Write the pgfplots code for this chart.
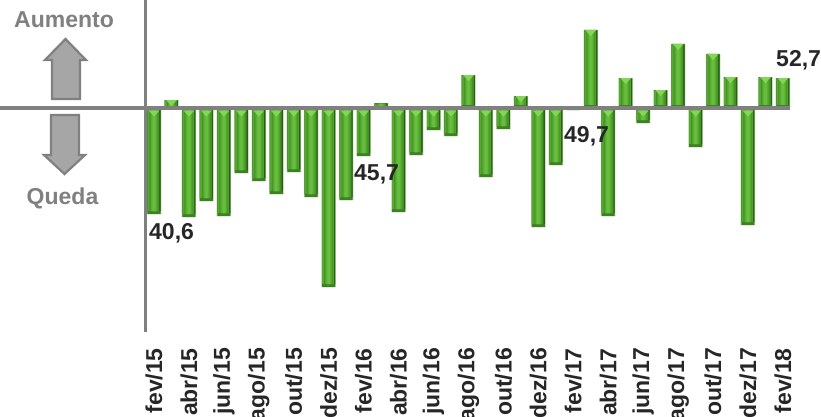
\documentclass[border=0pt]{standalone}
\usepackage{fontspec}
\setmainfont{Liberation Sans}
\usepackage{pgfplots}
\usepackage{pgfplotstable}
\pgfplotsset{compat=1.18}
\definecolor{axg}{HTML}{808080}
\definecolor{arrowfill}{HTML}{A6A6A6}
\definecolor{txt}{HTML}{262626}
\definecolor{edgeg}{HTML}{A8D68E}
\definecolor{foot}{HTML}{3F8027}
\definecolor{tipg}{HTML}{84D656}
\definecolor{rightb}{HTML}{2E5C1C}
\definecolor{leftb}{HTML}{56A832}
\definecolor{g1}{HTML}{468F28}
\definecolor{g2}{HTML}{4FA02D}
\definecolor{g3}{HTML}{58AD33}
\definecolor{g4}{HTML}{60B738}
\definecolor{g5}{HTML}{68BE3D}
\pgfplotstableread{
x v inner foot tip
0 -106 -103 nan -4.5
1 8 7.5 2 6
2 -109 -106 nan -4.5
3 -93 -90 nan -4.5
4 -108 -105 nan -4.5
5 -65 -62 nan -4.5
6 -73 -70 nan -4.5
7 -86 -83 nan -4.5
8 -64 -61 nan -4.5
9 -89 -86 nan -4.5
10 -179 -176 nan -4.5
11 -92 -89 nan -4.5
12 -48 -45 nan -4.5
13 5 4.5 1 nan
14 -104 -101 nan -4.5
15 -47 -44 nan -4.5
16 -22 -19 nan -4.5
17 -28 -25 nan -4.5
18 33 32.5 3 31
19 -69 -66 nan -4.5
20 -21 -18 nan -4.5
21 12 11.5 3 10
22 -119 -116 nan -4.5
23 -57 -54 nan -4.5
24 -2 nan nan nan
25 78 77.5 3 76
26 -108 -105 nan -4.5
27 30 29.5 3 28
28 -15 -12 nan -4.5
29 18 17.5 3 16
30 64 63.5 3 62
31 -39 -36 nan -4.5
32 54 53.5 3 52
33 31 30.5 3 29
34 -117 -114 nan -4.5
35 31 30.5 3 29
36 30 29.5 3 28
}\datatab
\begin{document}
\begin{tikzpicture}[x=1pt,y=1pt]
\useasboundingbox (0,0) rectangle (821,416);
\clip (0,0) rectangle (821,416);
\begin{axis}[
  at={(0,76)},anchor=south west,
  scale only axis,width=821pt,height=340pt,
  xmin=-8.815,xmax=38.18,ymin=-232,ymax=108,
  clip=false,
  axis line style={draw=none},
  major tick length=0pt,
  ytick=\empty,
  xtick={0,2,...,36},
  xticklabels={fev/15,abr/15,jun/15,ago/15,out/15,dez/15,fev/16,abr/16,jun/16,ago/16,out/16,dez/16,fev/17,abr/17,jun/17,ago/17,out/17,dez/17,fev/18},
  xticklabel style={rotate=90,anchor=east,text=txt,inner sep=0pt,yshift=0pt,xshift=-8pt,
    font=\fontsize{23}{23}\selectfont\bfseries},
  bar width=14.5pt,
]
\addplot[ybar,bar shift=0pt,bar width=14.5pt,fill=edgeg,draw=none] table[x=x,y=v]{\datatab};
\addplot[ybar,bar shift=0pt,bar width=13pt,fill=foot,draw=none] table[x=x,y=v]{\datatab};
% right bevel, left bevel and a stepped gradient down the middle of each bar
\addplot[ybar,bar shift=0pt,bar width=13pt,fill=rightb,draw=none] table[x=x,y=inner]{\datatab};
\addplot[ybar,bar shift=-0.7pt,bar width=11.6pt,fill=leftb,draw=none] table[x=x,y=inner]{\datatab};
\addplot[ybar,bar shift=0pt,bar width=9pt,fill=g1,draw=none] table[x=x,y=inner]{\datatab};
\addplot[ybar,bar shift=0pt,bar width=7.4pt,fill=g2,draw=none] table[x=x,y=inner]{\datatab};
\addplot[ybar,bar shift=0pt,bar width=5.6pt,fill=g3,draw=none] table[x=x,y=inner]{\datatab};
\addplot[ybar,bar shift=0pt,bar width=4pt,fill=g4,draw=none] table[x=x,y=inner]{\datatab};
\addplot[ybar,bar shift=0pt,bar width=2.2pt,fill=g5,draw=none] table[x=x,y=inner]{\datatab};
\addplot[ybar,bar shift=0pt,bar width=13pt,fill=foot,draw=none] table[x=x,y=foot]{\datatab};
\addplot[only marks,mark=triangle*,mark size=6pt,
  mark options={yscale=-0.65,fill=tipg,draw=tipg,line width=0.1pt}] table[x=x,y=tip]{\datatab};
\addplot[axg,line width=3.4pt] coordinates {(-8.815,0) (36.4,0)};
\addplot[axg,line width=3pt] coordinates {(-0.458,108) (-0.458,-224)};
\end{axis}
% arrows and texts, in pixels from the top left
\begin{scope}[yscale=-1,yshift=-416]
\draw[draw=axg,fill=arrowfill,line width=2.2pt,miter limit=3]
  (52,99)--(52,60)--(45,60)--(65.5,39)--(86,60)--(80,60)--(80,99)--cycle;
\draw[draw=axg,fill=arrowfill,line width=2.2pt,miter limit=3]
  (51,115)--(51,155)--(44,155)--(64.5,174)--(85,155)--(79,155)--(79,115)--cycle;
\end{scope}
\begin{scope}[every node/.style={inner sep=0pt,font=\fontsize{23}{23}\selectfont\bfseries}]
\node[anchor=base,text=axg] at (64,416-28) {Aumento};
\node[anchor=base,text=axg] at (62.5,416-204) {Queda};
\node[anchor=base west,text=txt] at (149,416-239) {40,6};
\node[anchor=base west,text=txt] at (354,416-180) {45,7};
\node[anchor=base west,text=txt] at (564,416-142) {49,7};
\node[anchor=base west,text=txt] at (776,416-67) {52,7};
\end{scope}
\end{tikzpicture}
\end{document}
